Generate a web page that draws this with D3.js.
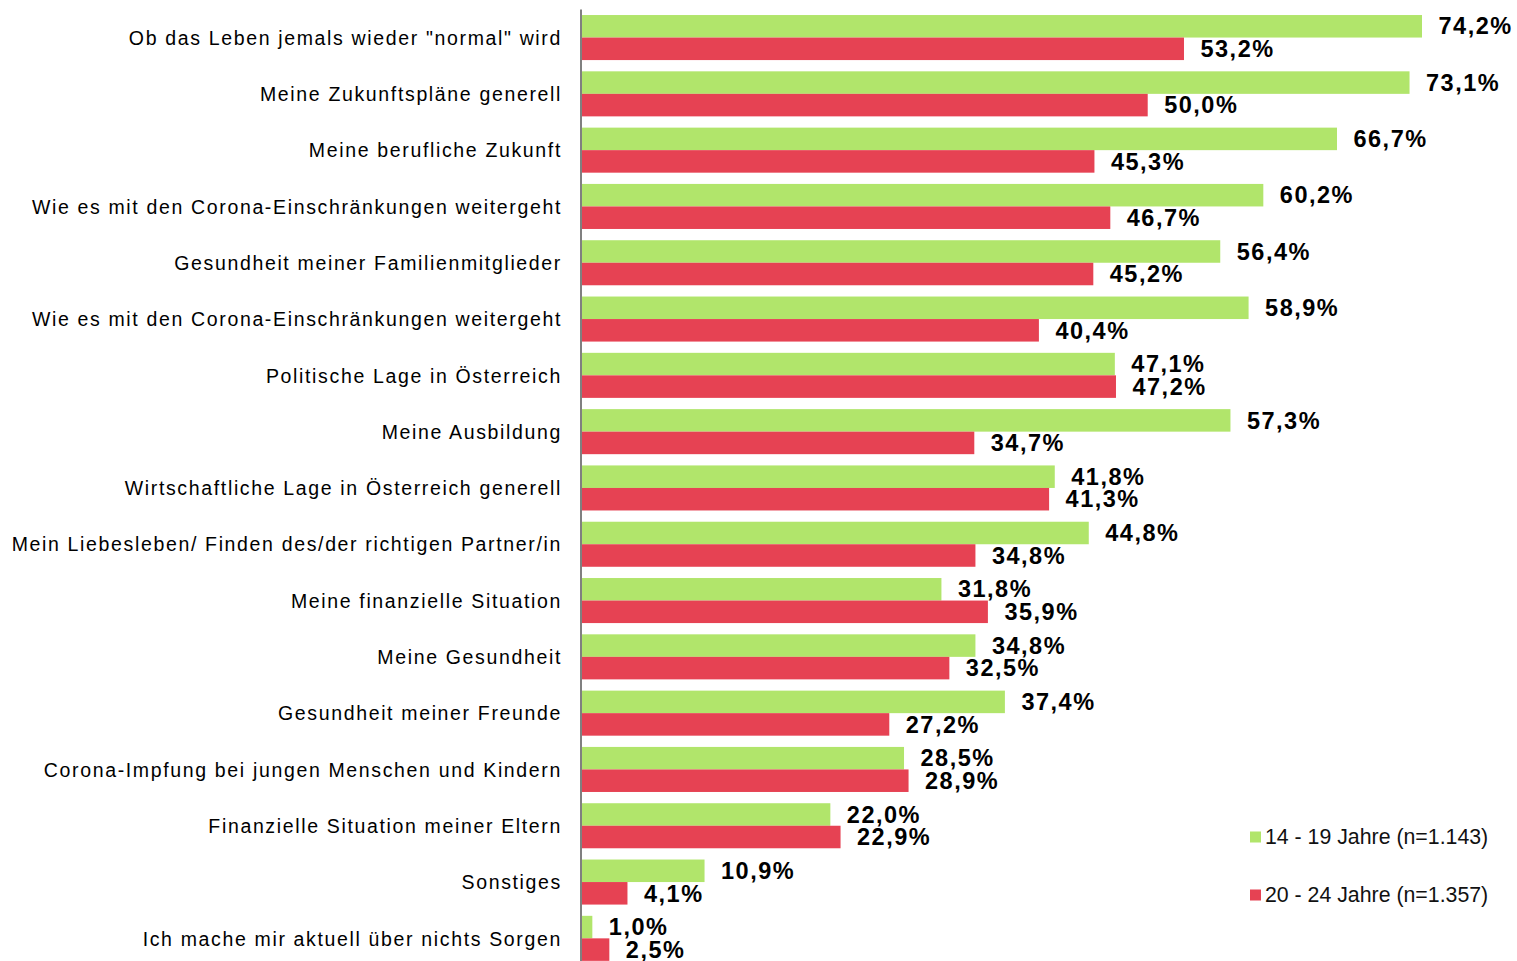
<!DOCTYPE html>
<html><head><meta charset="utf-8">
<script src="https://cdn.jsdelivr.net/npm/d3@7"></script>
<style>body{margin:0;background:#fff}svg{display:block}</style>
</head><body><svg id="c" width="1517" height="961"></svg>
<script>
const categories = [
 'Ob das Leben jemals wieder "normal" wird',
 'Meine Zukunftspläne generell',
 'Meine berufliche Zukunft',
 'Wie es mit den Corona-Einschränkungen weitergeht',
 'Gesundheit meiner Familienmitglieder',
 'Wie es mit den Corona-Einschränkungen weitergeht ',
 'Politische Lage in Österreich',
 'Meine Ausbildung',
 'Wirtschaftliche Lage in Österreich generell',
 'Mein Liebesleben/ Finden des/der richtigen Partner/in',
 'Meine finanzielle Situation',
 'Meine Gesundheit',
 'Gesundheit meiner Freunde',
 'Corona-Impfung bei jungen Menschen und Kindern',
 'Finanzielle Situation meiner Eltern',
 'Sonstiges',
 'Ich mache mir aktuell über nichts Sorgen'
];
const young = [74.2,73.1,66.7,60.2,56.4,58.9,47.1,57.3,41.8,44.8,31.8,34.8,37.4,28.5,22.0,10.9,1.0];
const older = [53.2,50.0,45.3,46.7,45.2,40.4,47.2,34.7,41.3,34.8,35.9,32.5,27.2,28.9,22.9,4.1,2.5];
const seriesNames = ["14 - 19 Jahre (n=1.143)","20 - 24 Jahre (n=1.357)"];
const colors = ["#b1e56b","#e64253"];

const svg = d3.select("#c");
const x0 = 581;
const x = d3.scaleLinear().domain([0,74.2]).range([x0,1422]);
const y = d3.scaleBand().domain(categories).range([9.4,966.5]).paddingInner(0.2).paddingOuter(0.1);
const sub = d3.scaleBand().domain([0,1]).range([0,y.bandwidth()]);
const fmt = v => v.toFixed(1).replace(".",",")+"%";

const series = [young, older];
series.forEach((vals,si)=>{
  const g = svg.append("g");
  g.selectAll("rect").data(vals).join("rect")
    .attr("x",x0).attr("y",(d,i)=>y(categories[i])+sub(si))
    .attr("width",d=>x(d)-x0).attr("height",sub.bandwidth())
    .attr("fill",colors[si]);
  g.selectAll("text").data(vals).join("text")
    .attr("x",d=>x(d)+16.5).attr("y",(d,i)=>y(categories[i])+sub(si)+sub.bandwidth()/2+2)
    .attr("dominant-baseline","middle")
    .attr("font-family","Liberation Sans, Arial, sans-serif").attr("font-weight","bold")
    .attr("font-size","23.5px").attr("letter-spacing","1.5px").attr("fill","#000").text(fmt);
});

// category labels
svg.append("g").selectAll("text").data(categories).join("text")
  .attr("x",562).attr("y",d=>y(d)+y.bandwidth()/2+2)
  .attr("text-anchor","end").attr("dominant-baseline","middle")
  .attr("font-family","Liberation Sans, Arial, sans-serif").attr("font-size","19.5px")
  .attr("letter-spacing","1.65px").attr("fill","#000").text(d=>d.trim());

// axis line
svg.append("line").attr("x1",x0).attr("x2",x0).attr("y1",9.5).attr("y2",961)
  .attr("stroke","#808080").attr("stroke-width",2);

// legend
const leg = svg.append("g");
seriesNames.forEach((n,i)=>{
  const ly = 837 + i*58;
  leg.append("rect").attr("x",1250).attr("y",ly-5.5).attr("width",11).attr("height",11).attr("fill",colors[i]);
  leg.append("text").attr("x",1265).attr("y",ly+1).attr("dominant-baseline","middle")
    .attr("font-family","Liberation Sans, Arial, sans-serif").attr("font-size","21.3px")
    .attr("fill","#111").text(n);
});
</script></body></html>
